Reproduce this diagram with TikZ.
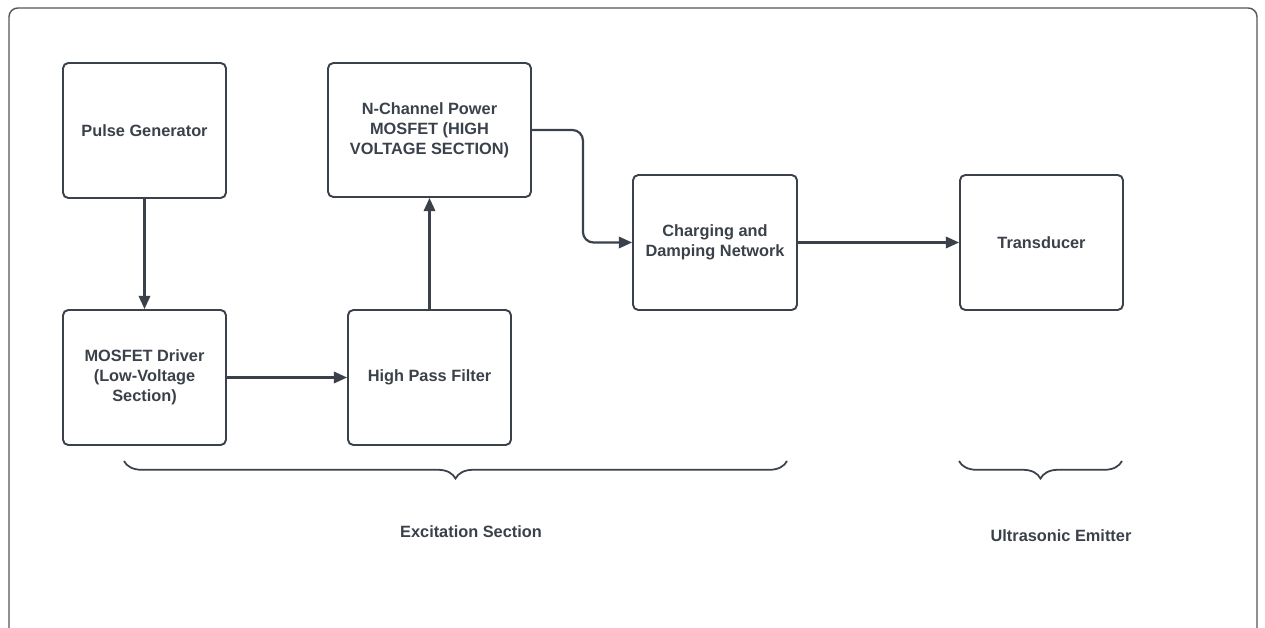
\documentclass[tikz,border=0pt]{standalone}
\usepackage{fontspec}
\setmainfont{Liberation Sans}
\usepackage{xcolor}
\definecolor{ink}{HTML}{3A414A}
\definecolor{frame}{HTML}{50565E}
\usetikzlibrary{%
  arrows.meta,
  positioning,
  decorations.pathreplacing
}
\tikzset{
block/.style args = {#1/#2}{
            draw=ink, line width=1.1pt, rounded corners=3pt,
            minimum width=#1, minimum height=#2,
            inner sep=0pt, align=center, text=ink,
            font=\fontsize{9.3}{11.4}\selectfont\bfseries},
link/.style = {draw=ink, line width=1.25pt, -{Triangle[length=7.5pt,width=6.5pt]}},
brace/.style = {
            decorate,
            decoration={brace, amplitude=10pt,
                        mirror,% brace opens downwards
                        },
            draw=ink, line width=1pt},
caption/.style = {text=ink, font=\fontsize{9.3}{11.4}\selectfont\bfseries}
}

\begin{document}
\begin{tikzpicture}[x=0.02cm, y=-0.02cm]
  \useasboundingbox (0,0) rectangle (1265,628);
  \draw[frame, line width=0.8pt, rounded corners=5pt]
    (9,628) -- (9,8) -- (1257,8) -- (1257,628);

  % blocks
  \node[block=3.26cm/2.7cm]  (pulse)  at (144.5,130.5) {Pulse Generator};
  \node[block=3.26cm/2.7cm]  (driver) at (144.5,377.5) {MOSFET Driver\\(Low-Voltage\\Section)};
  \node[block=3.26cm/2.7cm]  (hpf)    at (429.5,377.5) {High Pass Filter};
  \node[block=4.06cm/2.68cm] (nmos)   at (429.5,130)   {N-Channel Power\\MOSFET (HIGH\\VOLTAGE SECTION)};
  \node[block=3.28cm/2.7cm]  (damp)   at (715,242.5)   {Charging and\\Damping Network};
  \node[block=3.26cm/2.7cm]  (xdcr)   at (1041.5,242.5) {Transducer};

  % signal path
  \draw[link] (pulse) -- (driver);
  \draw[link] (driver) -- (hpf);
  \draw[link] (hpf) -- (nmos);
  \draw[link, rounded corners=6pt] (nmos.east) -- ++(51,0) |- (damp.west);
  \draw[link] (damp) -- (xdcr);

  % sections
  \coordinate (exA) at (124,461);
  \coordinate (exB) at (787,461);
  \coordinate (emA) at (959,461);
  \coordinate (emB) at (1122,461);
  \draw[brace] (exA) -- (exB);
  \draw[brace] (emA) -- (emB);
  \node[caption] (exlabel) at (471,532) {Excitation Section};
  \node[caption] (emlabel) at (1061,536) {Ultrasonic Emitter};
\end{tikzpicture}
\end{document}
